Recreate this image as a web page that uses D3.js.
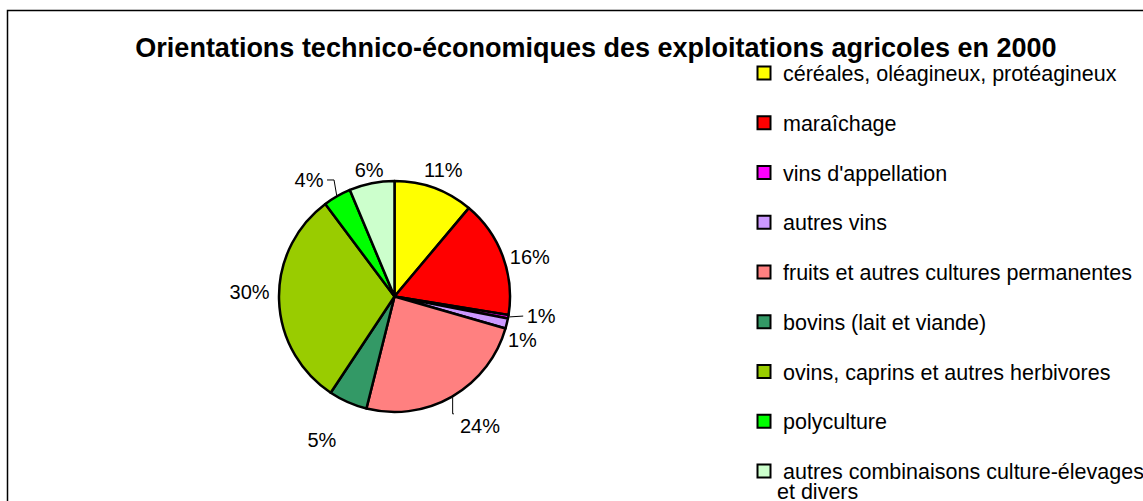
<!DOCTYPE html>
<html>
<head>
<meta charset="utf-8">
<script src="https://cdn.jsdelivr.net/npm/d3@7"></script>
<style>
  body { margin: 0; background: #fff; }
  text { font-family: "Liberation Sans", Arial, sans-serif; }
</style>
</head>
<body>
<div id="chart"></div>
<script>
var categories = [
  "céréales, oléagineux, protéagineux",
  "maraîchage",
  "vins d'appellation",
  "autres vins",
  "fruits et autres cultures permanentes",
  "bovins (lait et viande)",
  "ovins, caprins et autres herbivores",
  "polyculture",
  "autres combinaisons culture-élevages et divers"
];
// share of farms, in %
var values = [11.1, 16.4, 0.5, 1.4, 24.4, 5.4, 30.4, 3.9, 6.3];
var colors = ["#FFFF00", "#FF0000", "#FF00FF", "#CC99FF", "#FF8080", "#339966", "#99CC00", "#00FF00", "#CCFFCC"];
var title = "Orientations technico-économiques des exploitations agricoles en 2000";

// label placement: [angle shift in degrees, distance from centre]
var labelPlace = [[1, 136], [4.1, 141], [-2.5, 148], [5.1, 135], [-3.5, 155], [3, 161], [3.4, 145], [-6.5, 144.5], [0, 129]];

var width = 1143, height = 501;
var cx = 394.5, cy = 296.5, r = 115.5;

var svg = d3.select("#chart").append("svg")
    .attr("width", width)
    .attr("height", height);

svg.append("rect")
    .attr("x", 7.5).attr("y", 10.5)
    .attr("width", 1300).attr("height", 600)
    .attr("fill", "#fff")
    .attr("stroke", "#000")
    .attr("stroke-width", 1.5);

svg.append("text")
    .attr("x", 596).attr("y", 57)
    .attr("text-anchor", "middle")
    .attr("font-weight", "bold")
    .attr("font-size", 27)
    .text(title);

var pie = d3.pie().sort(null).value(d => d)(values);
var arc = d3.arc().innerRadius(0).outerRadius(r);

var g = svg.append("g").attr("transform", `translate(${cx},${cy})`);

g.selectAll("path.slice")
  .data(pie)
  .join("path")
    .attr("class", "slice")
    .attr("d", arc)
    .attr("fill", (d, i) => colors[i])
    .attr("stroke", "#000")
    .attr("stroke-width", 2.5)
    .attr("stroke-linejoin", "round");

var fmt = v => Math.round(v) + "%";
var mid = d => (d.startAngle + d.endAngle) / 2;

var labels = pie.map((d, i) => {
  var a = mid(d) + labelPlace[i][0] * Math.PI / 180;
  var p = d3.pointRadial(a, labelPlace[i][1]);
  return {d: d, i: i, x: p[0], y: p[1]};
});

g.selectAll("text.pct")
  .data(labels)
  .join("text")
    .attr("class", "pct")
    .attr("x", d => d.x)
    .attr("y", d => d.y)
    .attr("dy", "0.35em")
    .attr("text-anchor", "middle")
    .attr("font-size", 20)
    .attr("fill", "#000")
    .text(d => fmt(d.d.value));

// leader lines from slice edge to label (magenta, pink, bright green)
var leaderPath = {
  2: (e, l) => `M${e[0]},${e[1]}L${l.x - 18},${l.y}`,
  4: (e, l) => `M${e[0]},${e[1]}V${l.y - 12}H${l.x - 26}`,
  7: (e, l) => `M${e[0]},${e[1]}L${l.x + 25},${l.y}H${l.x + 18}`
};

g.selectAll("path.leader")
  .data(labels.filter(l => leaderPath[l.i]))
  .join("path")
    .attr("class", "leader")
    .attr("fill", "none")
    .attr("stroke", "#000")
    .attr("stroke-width", 1)
    .attr("d", l => leaderPath[l.i](d3.pointRadial(mid(l.d), r + 1), l));

// legend
var legend = svg.append("g").attr("transform", "translate(757,73)");
var rowH = 49.75;

var item = legend.selectAll("g")
  .data(categories)
  .join("g")
    .attr("transform", (d, i) => `translate(0,${i * rowH})`);

item.append("rect")
  .attr("x", 0.5).attr("y", -6.5)
  .attr("width", 13).attr("height", 13)
  .attr("fill", (d, i) => colors[i])
  .attr("stroke", "#000")
  .attr("stroke-width", 2);

item.append("text")
  .attr("font-size", 21.5)
  .attr("y", 8)
  .each(function(d) {
    var t = d3.select(this);
    var lines = d === categories[8] ? ["autres combinaisons culture-élevages", "et divers"] : [d];
    lines.forEach((s, k) => {
      t.append("tspan").attr("x", k ? 20 : 26).attr("dy", k ? 20 : 0).text(s);
    });
  });
</script>
</body>
</html>
